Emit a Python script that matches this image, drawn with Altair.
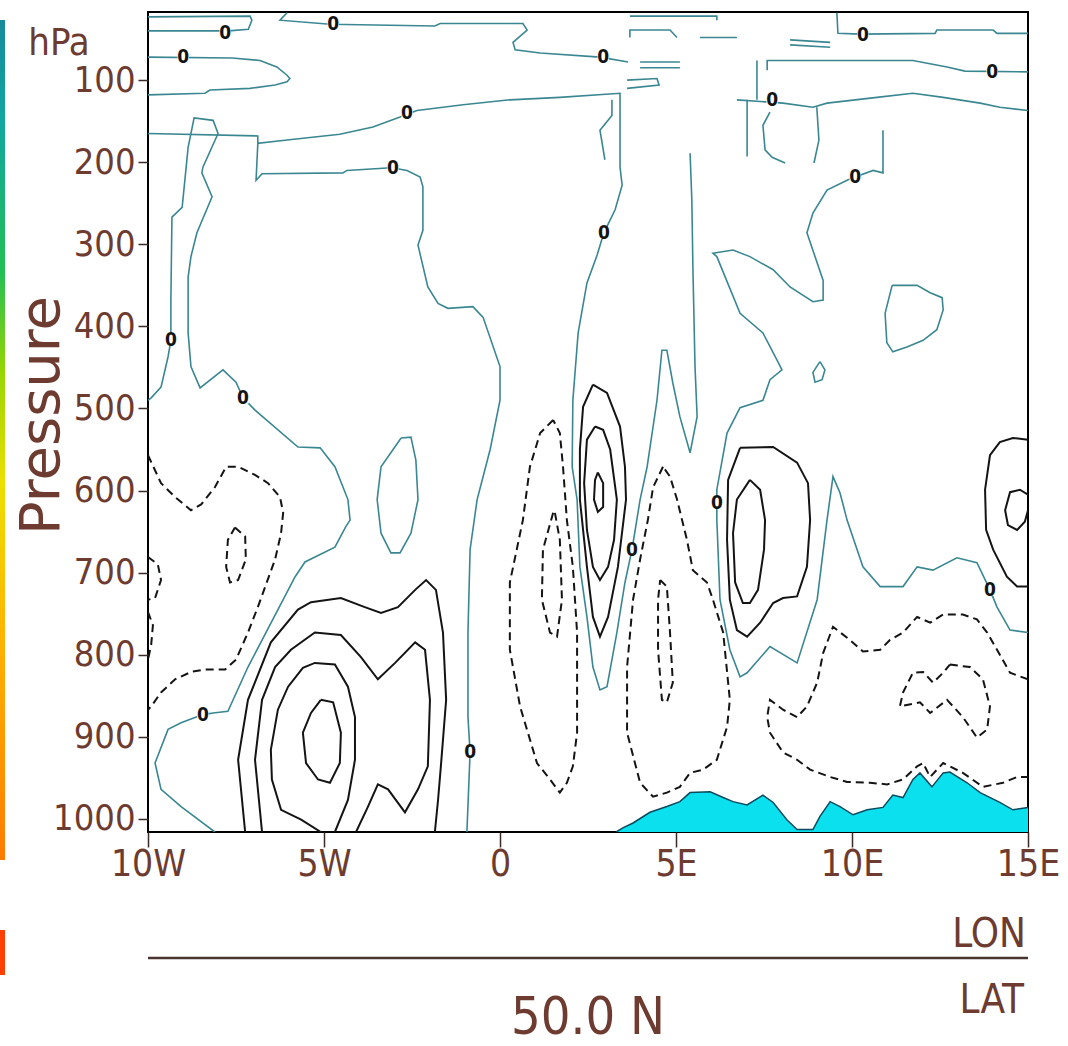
import altair as alt
import pandas as pd

# ---------------- data (lon in degrees E, pressure in hPa) ----------------
# zero contours (teal)
Z1 = [(-10, 23), (-7.1, 22), (-7.05, 27), (-7.15, 38), (-7.7, 40), (-10, 40)]
Z2 = [(-6.05, 18), (-6.25, 27), (-4.83, 32), (-1.85, 34), (-1.7, 31), (0.65, 31), (0.77, 39), (0.37, 54),
      (0.43, 63), (1.14, 67), (2.84, 72), (3.64, 78)]
Z3 = [(9.57, 18), (9.6, 43), (10.23, 44), (12.36, 43), (12.41, 39), (14.01, 39), (14.12, 43), (15, 43)]
Z4 = [(7.59, 88), (7.59, 76), (11.73, 76), (12.7, 84), (13.21, 89), (15, 90)]
Z5 = [(6.73, 124), (8.04, 128), (8.89, 133), (9.29, 128), (10.71, 121), (11.73, 116), (12.59, 121),
      (13.64, 128), (14.2, 133), (15, 137)]
Z6 = [(-10, 72), (-7.61, 73), (-6.82, 76), (-6.34, 84), (-6.05, 94), (-5.97, 98), (-6.05, 102), (-6.39, 106),
      (-7.1, 110), (-8.24, 112), (-8.38, 116), (-10, 118)]
Z7 = [(-10, 165), (-6.88, 168), (-6.88, 177), (-6.05, 173), (-4.55, 166), (-3.61, 157), (-2.84, 145),
      (-2.36, 137), (-1.05, 130), (0.28, 124), (1.70, 121), (3.41, 116), (3.41, 206), (3.47, 228), (3.27, 258),
      (2.95, 286), (2.76, 313), (2.47, 347), (2.22, 408), (2.07, 490), (2.05, 571), (2.19, 611), (2.27, 693),
      (2.47, 754), (2.64, 815), (2.84, 843), (3.04, 839), (3.32, 773), (3.55, 712), (3.75, 672), (3.98, 611),
      (4.18, 571), (4.46, 490), (4.60, 429), (4.74, 429), (4.91, 469), (5.11, 510), (5.40, 554), (5.60, 510),
      (5.54, 449), (5.48, 328), (5.45, 246), (5.40, 189)]
Z8 = [(-6.88, 177), (-6.93, 222), (-6.76, 214), (-4.46, 213), (-4.35, 210), (-3.21, 207), (-3.04, 207),
      (-2.64, 210), (-2.27, 218), (-2.19, 230), (-2.19, 283), (-2.33, 301), (-2.05, 352), (-1.76, 372),
      (-1.48, 378), (-0.77, 376), (-0.48, 389), (0, 449), (0, 490), (-0.28, 550), (-0.65, 611), (-0.85, 672),
      (-0.91, 773), (-0.91, 876), (-0.85, 919), (-0.94, 1016)]
Z9 = [(-10, 490), (-9.91, 487), (-9.63, 474), (-9.43, 437), (-9.35, 417), (-9.35, 368), (-9.32, 267),
      (-9.03, 255), (-8.86, 182), (-8.69, 146), (-8.15, 149), (-8.01, 165), (-8.44, 206), (-8.47, 213),
      (-8.18, 242), (-8.61, 286), (-8.78, 315), (-8.86, 340), (-8.86, 408), (-8.78, 449), (-8.52, 475),
      (-7.87, 453), (-7.50, 468), (-7.30, 487), (-6.96, 502), (-5.74, 547), (-5.11, 548), (-4.69, 571),
      (-4.32, 611), (-4.26, 636), (-4.38, 644), (-4.69, 669), (-5.54, 687), (-5.82, 705), (-7.16, 815),
      (-7.73, 869), (-8.15, 871), (-8.44, 873), (-9.06, 883), (-9.43, 891), (-9.80, 932), (-9.63, 964),
      (-9.06, 985), (-8.10, 1016)]
Z10 = [(-2.81, 536), (-2.53, 535), (-2.39, 563), (-2.33, 611), (-2.53, 652), (-2.84, 676), (-3.10, 676),
       (-3.38, 652), (-3.49, 611), (-3.38, 571), (-2.81, 536)]
Z11 = [(10.88, 161), (10.88, 213), (10.60, 210), (10.09, 218), (9.86, 222), (9.29, 234), (8.89, 262),
       (8.72, 286), (9.18, 344), (9.18, 368), (8.89, 370), (8.24, 352), (7.76, 331), (7.10, 315), (6.62, 307),
       (6.05, 311), (6.16, 315), (6.82, 384), (7.47, 408), (7.87, 441), (8.01, 453), (7.67, 465), (7.47, 490),
       (6.82, 499), (6.45, 530), (6.16, 599), (6.16, 615), (6.16, 636), (6.25, 733), (6.53, 794), (6.82, 827),
       (7.02, 822), (7.67, 790), (8.44, 810), (9.01, 733), (9.29, 636), (9.46, 583), (9.66, 603), (9.86, 636),
       (10.31, 693), (10.80, 717), (11.45, 717), (11.85, 693), (12.30, 697), (12.98, 682), (13.55, 688),
       (13.92, 721), (14.12, 742), (14.49, 770), (15, 773)]
Z12 = [(11.14, 350), (11.85, 350), (12.22, 359), (12.56, 365), (12.59, 380), (12.41, 404), (12.02, 417),
       (11.56, 425), (11.16, 431), (10.99, 420), (10.94, 384), (11.14, 350)]
Z13 = [(9.09, 443), (9.23, 453), (9.15, 465), (8.95, 468), (8.89, 456), (9.09, 443)]
H1 = [(7.02, 124), (7.02, 193)]
H2 = [(7.67, 139), (7.47, 155), (7.53, 185), (7.73, 194), (8.1, 201)]
H3 = [(9.0, 133), (9.06, 173), (8.92, 201)]
S2 = [(3.69, 22), (6.16, 22), (6.16, 27)]
S3 = [(3.69, 48), (3.69, 39), (4.83, 39), (5.03, 48)]
S4 = [(5.68, 48), (6.73, 48)]
S5A = [(3.98, 78), (5.11, 78)]
S5B = [(3.98, 85), (5.11, 85)]
S6 = [(3.61, 100), (4.46, 98), (4.52, 106), (3.61, 110)]
S7A = [(8.24, 51), (9.38, 54)]
S7B = [(8.24, 57), (9.38, 60)]
S8 = [(7.30, 76), (7.30, 124)]
S9 = [(3.18, 124), (3.18, 143), (2.84, 161), (2.98, 197)]

ZERO_LINES = {"Z1": Z1, "Z2": Z2, "Z3": Z3, "Z4": Z4, "Z5": Z5, "Z6": Z6, "Z7": Z7, "Z8": Z8, "Z9": Z9,
              "Z10": Z10, "Z11": Z11, "Z12": Z12, "Z13": Z13, "H1": H1, "H2": H2, "H3": H3, "S2": S2,
              "S3": S3, "S4": S4, "S5A": S5A, "S5B": S5B, "S6": S6, "S7A": S7A, "S7B": S7B, "S8": S8, "S9": S9}

# positive contours (solid black)
P1 = [(-7.24, 1016), (-7.44, 928), (-7.16, 855), (-6.51, 785), (-5.74, 745), (-5.37, 736), (-4.52, 731),
      (-3.84, 742), (-3.38, 749), (-2.90, 742), (-2.41, 721), (-2.10, 709), (-1.82, 721), (-1.62, 773),
      (-1.53, 855), (-1.68, 936), (-1.76, 977), (-1.85, 1016)]
P2 = [(-6.76, 1016), (-6.96, 928), (-6.76, 855), (-6.39, 815), (-5.94, 794), (-5.26, 773), (-4.52, 776),
      (-3.95, 803), (-3.47, 830), (-2.98, 810), (-2.41, 785), (-2.13, 794), (-1.99, 855), (-2.05, 936),
      (-2.33, 964), (-2.70, 992), (-3.18, 964), (-3.47, 958), (-3.75, 985), (-4.09, 1016)]
P3 = [(-5.09, 1016), (-5.65, 1001), (-6.22, 989), (-6.48, 952), (-6.51, 916), (-6.31, 867), (-6.02, 839),
      (-5.60, 816), (-5.26, 810), (-4.69, 812), (-4.32, 839), (-4.12, 876), (-4.12, 928), (-4.32, 977),
      (-4.69, 1016)]
P4 = [(-5.09, 855), (-4.74, 858), (-4.52, 895), (-4.55, 932), (-4.83, 956), (-5.17, 952), (-5.51, 932),
      (-5.60, 895), (-5.37, 871), (-5.09, 855)]
B1 = [(2.64, 471), (3.04, 481), (3.41, 522), (3.55, 571), (3.58, 611), (3.35, 693), (3.07, 754), (2.84, 778),
      (2.64, 754), (2.47, 693), (2.27, 611), (2.27, 550), (2.36, 498), (2.64, 471)]
B2 = [(2.70, 522), (2.93, 526), (3.13, 550), (3.32, 611), (3.24, 660), (3.07, 693), (2.84, 709), (2.64, 693),
      (2.47, 648), (2.39, 591), (2.47, 538), (2.70, 522)]
B3 = [(2.78, 578), (2.93, 591), (2.93, 620), (2.78, 626), (2.67, 611), (2.70, 587), (2.78, 578)]
C1 = [(6.82, 548), (7.76, 547), (8.44, 566), (8.75, 591), (8.81, 636), (8.72, 693), (8.44, 729), (8.04, 731),
      (7.76, 737), (7.39, 761), (7.02, 778), (6.73, 770), (6.53, 733), (6.45, 660), (6.48, 587), (6.82, 548)]
C2 = [(7.10, 587), (7.39, 599), (7.53, 636), (7.50, 672), (7.33, 721), (7.10, 737), (6.90, 737), (6.68, 712),
      (6.62, 652), (6.73, 611), (7.10, 587)]
D1 = [(15, 538), (14.57, 536), (14.20, 541), (13.92, 557), (13.78, 599), (13.81, 648), (14.01, 672),
      (14.40, 705), (14.69, 717), (15, 717)]
D2 = [(15, 605), (14.77, 599), (14.49, 602), (14.35, 624), (14.43, 642), (14.69, 648), (14.91, 638), (15, 624)]
POS_LINES = {"P1": P1, "P2": P2, "P3": P3, "P4": P4, "B1": B1, "B2": B2, "B3": B3, "C1": C1, "C2": C2,
             "D1": D1, "D2": D2}

# negative contours (dashed black)
N1 = [(-10, 557), (-9.63, 591), (-9.23, 608), (-8.78, 624), (-8.49, 617), (-8.10, 596), (-7.78, 571),
      (-7.44, 571), (-6.96, 581), (-6.59, 591), (-6.25, 608), (-6.16, 627), (-6.22, 652), (-6.39, 684),
      (-6.88, 742), (-7.16, 773), (-7.50, 806), (-7.81, 818), (-8.38, 818), (-8.78, 821), (-9.23, 830),
      (-9.63, 846), (-9.91, 863), (-10, 867)]
N2 = [(-7.53, 645), (-7.24, 656), (-7.22, 684), (-7.44, 709), (-7.67, 712), (-7.78, 693), (-7.73, 660),
      (-7.53, 645)]
N3A = [(-10, 681), (-9.72, 690), (-9.63, 709), (-9.80, 731), (-10, 733)]
N3B = [(-10, 748), (-9.86, 764), (-9.91, 788), (-10, 806)]
N5 = [(1.51, 514), (1.14, 530), (0.85, 571), (0.65, 636), (0.28, 712), (0.28, 794), (0.57, 863), (1.05, 932),
      (1.42, 952), (1.70, 968), (1.90, 956), (2.07, 936), (2.19, 895), (2.19, 773), (2.07, 693), (1.90, 636),
      (1.79, 571), (1.70, 530), (1.51, 514)]
N6 = [(1.51, 627), (1.22, 672), (1.19, 733), (1.42, 773), (1.62, 778), (1.76, 733), (1.70, 660), (1.56, 627),
      (1.51, 627)]
N7 = [(4.63, 571), (4.35, 596), (4.20, 636), (3.98, 684), (3.78, 733), (3.61, 815), (3.61, 895), (3.98, 956),
      (4.35, 973), (4.74, 968), (5.11, 961), (5.40, 944), (5.77, 940), (6.16, 928), (6.45, 888), (6.53, 855),
      (6.34, 773), (6.05, 733), (5.88, 712), (5.48, 697), (5.31, 660), (5.03, 611), (4.83, 583), (4.63, 571)]
N8 = [(4.55, 709), (4.74, 717), (4.83, 773), (4.91, 834), (4.74, 858), (4.60, 855), (4.49, 794), (4.49, 733),
      (4.55, 709)]
N9 = [(15, 830), (14.49, 822), (14.12, 794), (13.84, 773), (13.55, 757), (13.15, 751), (12.59, 751),
      (12.22, 761), (11.85, 754), (11.45, 773), (11.08, 782), (10.80, 794), (10.31, 796), (9.94, 782),
      (9.46, 766), (9.18, 798), (9.01, 834), (8.72, 863), (8.44, 876), (8.04, 867), (7.67, 855), (7.59, 876),
      (7.67, 895), (8.04, 919), (8.44, 928), (8.81, 940), (9.38, 949), (9.86, 955), (10.51, 956), (11.00, 958),
      (11.45, 952), (11.85, 936), (12.02, 932), (12.22, 949), (12.59, 932), (13.15, 944), (13.72, 961),
      (14.29, 956), (14.69, 949), (15, 949)]
N10 = [(12.78, 812), (13.35, 815), (13.72, 830), (13.92, 863), (13.84, 891), (13.55, 901), (13.15, 876),
       (12.70, 855), (12.22, 871), (11.93, 858), (11.36, 863), (11.45, 846), (11.73, 822), (12.02, 821),
       (12.30, 834), (12.59, 822), (12.78, 812)]
NEG_LINES = {"N1": N1, "N2": N2, "N3A": N3A, "N3B": N3B, "N5": N5, "N6": N6, "N7": N7, "N8": N8, "N9": N9,
             "N10": N10}

# orography profile (surface pressure)
OROG_LON = [3.3, 3.49, 3.78, 4.26, 4.74, 5.11, 5.40, 5.97, 6.34, 6.62, 7.02, 7.47, 7.76, 8.15, 8.44, 8.89,
            9.09, 9.38, 9.66, 10.03, 10.43, 10.88, 11.16, 11.45, 11.73, 11.93, 12.27, 12.59, 12.78, 13.27,
            13.64, 14.20, 14.57, 15]
OROG_P = [1016, 1011, 1005, 992, 985, 979, 968, 967, 974, 979, 983, 971, 980, 1001, 1013, 1013, 997, 979,
          985, 995, 989, 986, 971, 974, 952, 944, 961, 944, 943, 956, 968, 980, 989, 986]
SURFACE_BASE = 1016

# contour "0" labels
LABEL_LON = [-7.81, -4.74, -9.0, -2.64, -3.04, 2.93, 10.31, 13.98, 7.73, 10.09, 2.95, -9.35, -7.30, 6.16,
             3.75, 13.92, -8.44, -0.85]
LABEL_P = [42, 32, 72, 140, 207, 72, 45, 90, 124, 218, 286, 417, 487, 615, 672, 721, 873, 919]
LABEL_TEXT = ["0"] * len(LABEL_LON)

X_TICKS = [-10, -5, 0, 5, 10, 15]
Y_TICKS = [100, 200, 300, 400, 500, 600, 700, 800, 900, 1000]
P_DOMAIN = [17, 1016]
LON_DOMAIN = [-10, 15]

# ---------------- styling ----------------
TEAL = "#3b8791"
INK = "#141414"
BROWN = "#6d3b2f"
CYAN = "#0ae0ee"
NARROW = "DejaVu Sans Condensed, Liberation Sans Narrow, sans-serif"
WIDE = "DejaVu Sans, sans-serif"


def frame(lines):
    rows = []
    for name, pts in lines.items():
        for i, (lon, p) in enumerate(pts):
            rows.append({"id": name, "i": i, "lon": lon, "p": p})
    return pd.DataFrame(rows)


xscale = alt.Scale(domain=LON_DOMAIN, nice=False, zero=False)
yscale = alt.Scale(domain=P_DOMAIN, nice=False, zero=False, reverse=True)

xaxis = alt.Axis(values=X_TICKS,
                 labelExpr="datum.value < 0 ? (-datum.value) + 'W' : (datum.value > 0 ? datum.value + 'E' : '0')",
                 title=None, grid=False, domain=False, tickSize=15, tickWidth=1.5, tickColor="#3a2a28",
                 labelFont=NARROW, labelFontSize=37, labelColor=BROWN, labelPadding=-1,
                 labelFlush=False, labelOverlap=False, labelBound=False)
yaxis = alt.Axis(values=Y_TICKS, format="d", title="Pressure", grid=False, domain=False, tickSize=10,
                 tickWidth=1.5, tickColor="#3a2a28", labelFont=NARROW, labelFontSize=36, labelColor=BROWN,
                 labelPadding=3, labelFlush=False, labelOverlap=False, labelBound=False,
                 titleFont=WIDE, titleFontSize=56, titleFontWeight="normal", titleColor=BROWN,
                 titleAngle=270, titleX=-90, titleY=403, titleAlign="center", titleBaseline="alphabetic")

X = alt.X("lon:Q", scale=xscale, axis=xaxis)
Y = alt.Y("p:Q", scale=yscale, axis=yaxis)

oro_df = pd.DataFrame({"lon": OROG_LON, "p": OROG_P, "base": [SURFACE_BASE] * len(OROG_LON)})
orog = alt.Chart(oro_df).mark_area(color=CYAN, clip=True).encode(x=X, y=Y, y2="base:Q")
orog_edge = alt.Chart(oro_df).mark_line(color="#0d4a5e", strokeWidth=1.5, clip=True).encode(x=X, y=Y)

zero = alt.Chart(frame(ZERO_LINES)).mark_line(color=TEAL, strokeWidth=1.6, clip=True).encode(
    x=X, y=Y, detail="id:N", order="i:Q")
pos = alt.Chart(frame(POS_LINES)).mark_line(color=INK, strokeWidth=2, clip=True).encode(
    x=X, y=Y, detail="id:N", order="i:Q")
neg = alt.Chart(frame(NEG_LINES)).mark_line(color=INK, strokeWidth=2, strokeDash=[8, 5], clip=True).encode(
    x=X, y=Y, detail="id:N", order="i:Q")

lab_df = pd.DataFrame({"lon": LABEL_LON, "p": LABEL_P, "t": LABEL_TEXT})
lab_bg = alt.Chart(lab_df).mark_point(shape="square", filled=True, color="white", opacity=1, size=130).encode(
    x=X, y=Y)
lab_txt = alt.Chart(lab_df).mark_text(font=NARROW, fontSize=19, fontWeight="bold", color=INK,
                                      baseline="middle", align="center").encode(x=X, y=Y, text="t:N")

one = pd.DataFrame({"k": [0]})
hpa = alt.Chart(one).mark_text(text="hPa", font=NARROW, fontSize=38, color=BROWN, align="center",
                               baseline="alphabetic").encode(x=alt.value(-89), y=alt.value(43))
lon_t = alt.Chart(one).mark_text(text="LON", font=NARROW, fontSize=40, color=BROWN, align="right",
                                 baseline="alphabetic").encode(x=alt.value(878), y=alt.value(935))
lat_t = alt.Chart(one).mark_text(text="LAT", font=NARROW, fontSize=40, color=BROWN, align="right",
                                 baseline="alphabetic").encode(x=alt.value(876), y=alt.value(1001))
lat_v = alt.Chart(one).mark_text(text="50.0 N", font=NARROW, fontSize=52, color=BROWN, align="center",
                                 baseline="alphabetic").encode(x=alt.value(440), y=alt.value(1022))
sep = alt.Chart(one).mark_rule(color="#4a3430", strokeWidth=2.5).encode(
    x=alt.value(0), x2=alt.value(880), y=alt.value(946))

grad = alt.LinearGradient(gradient="linear", x1=0, x2=0, y1=0, y2=1, stops=[
    alt.GradientStop(color="#178a9c", offset=0),
    alt.GradientStop(color="#12a6a0", offset=0.12),
    alt.GradientStop(color="#22bf55", offset=0.3),
    alt.GradientStop(color="#97d600", offset=0.42),
    alt.GradientStop(color="#ecdf00", offset=0.55),
    alt.GradientStop(color="#ffb000", offset=0.75),
    alt.GradientStop(color="#ff7c00", offset=1)])
strip = alt.Chart(one).mark_rect(fill=grad).encode(
    x=alt.value(-148), x2=alt.value(-143), y=alt.value(8), y2=alt.value(848))
red = alt.Chart(one).mark_rect(fill="#ff4000").encode(
    x=alt.value(-148), x2=alt.value(-143), y=alt.value(918), y2=alt.value(963))

chart = alt.layer(orog, orog_edge, zero, pos, neg, lab_bg, lab_txt, hpa, lon_t, lat_t, lat_v, sep, strip, red
                  ).properties(
    width=880, height=820, autosize="none",
    padding={"left": 148, "top": 12, "right": 40, "bottom": 214},
    background="white"
).configure_view(stroke="black", strokeWidth=2)

chart.save("out.html", embed_options={"renderer": "svg", "actions": False})
